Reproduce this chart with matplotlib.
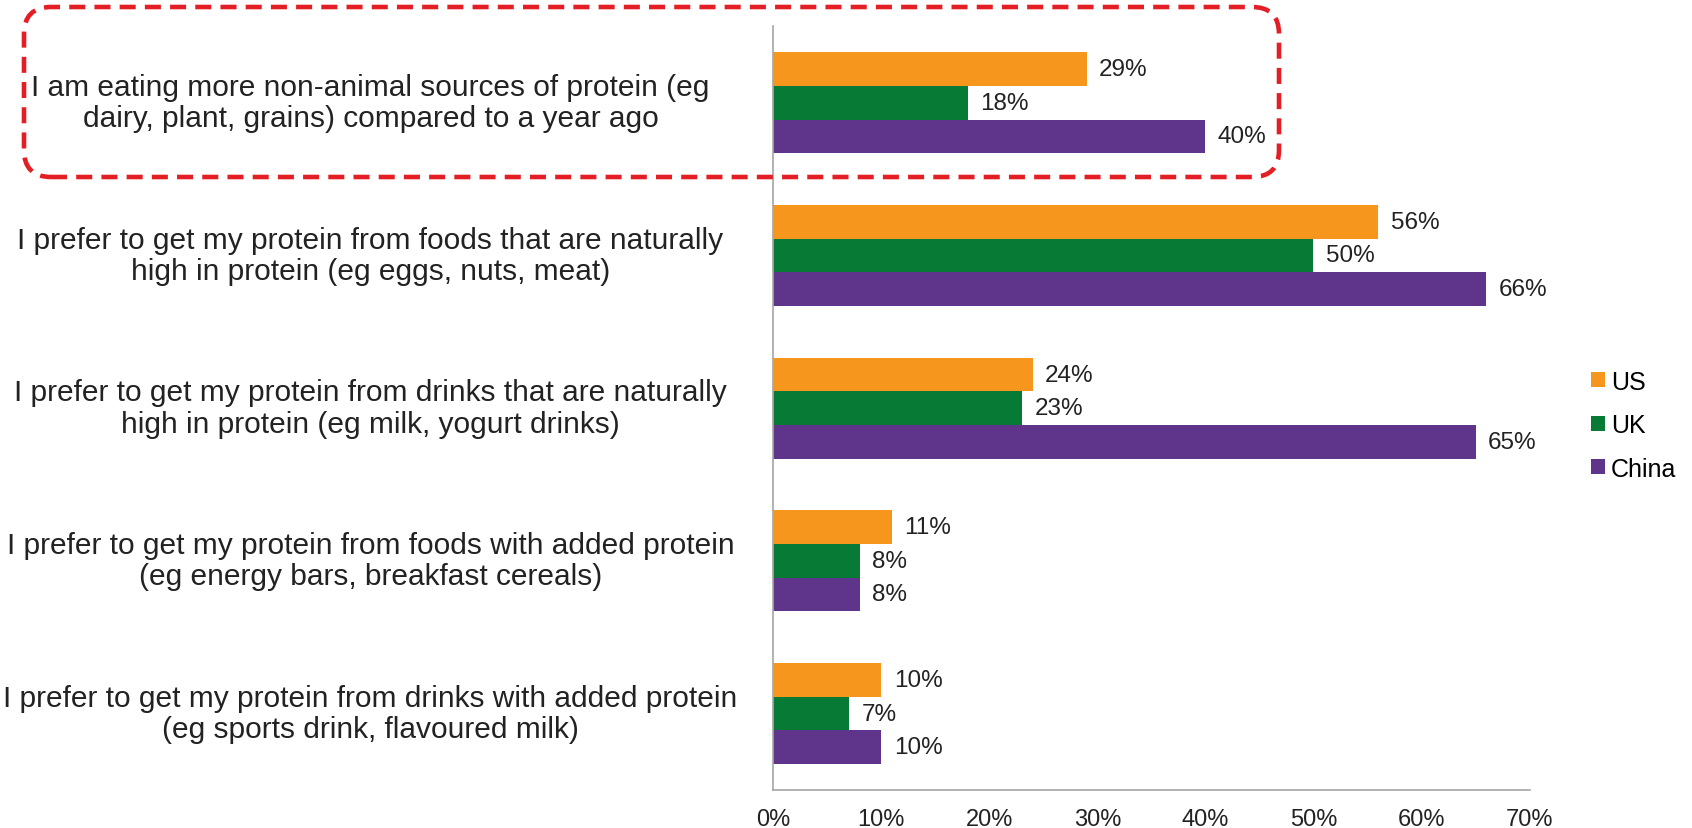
import matplotlib
matplotlib.use("Agg")
import matplotlib.pyplot as plt
import numpy as np
from matplotlib.patches import Patch, FancyBboxPatch
from matplotlib.transforms import blended_transform_factory

plt.rcParams['font.family'] = ['Liberation Sans', 'DejaVu Sans']

statements = [
    "I am eating more non-animal sources of protein (eg\ndairy, plant, grains) compared to a year ago",
    "I prefer to get my protein from foods that are naturally\nhigh in protein (eg eggs, nuts, meat)",
    "I prefer to get my protein from drinks that are naturally\nhigh in protein (eg milk, yogurt drinks)",
    "I prefer to get my protein from foods with added protein\n(eg energy bars, breakfast cereals)",
    "I prefer to get my protein from drinks with added protein\n(eg sports drink, flavoured milk)",
]
countries = ["US", "UK", "China"]
us = [29, 56, 24, 11, 10]
uk = [18, 50, 23, 8, 7]
china = [40, 66, 65, 8, 10]
colors = ["#F7961C", "#077A36", "#5E358B"]
xticks = [0, 10, 20, 30, 40, 50, 60, 70]

fig = plt.figure(figsize=(16.92, 8.29), dpi=100)
ax = fig.add_axes([0.457, 0.046, 0.447, 0.921])

y = np.arange(len(statements))
h = 0.22
for i, (vals, c) in enumerate(zip([us, uk, china], colors)):
    pos = y + (i - 1) * h
    ax.barh(pos, vals, height=h, color=c, label=countries[i])
    for p, v in zip(pos, vals):
        ax.annotate(f"{v}%", (v, p), xytext=(9, 0), textcoords='offset points',
                    ha='left', va='center', fontsize=17.5, color='#222222')

ax.set_ylim(len(statements) - 0.5, -0.5)
ax.set_xlim(0, 70)
ax.set_xticks(xticks)
ax.set_xticklabels([f"{t}%" for t in xticks], fontsize=17, color='#222222')
ax.tick_params(axis='x', length=0, pad=13)
ax.set_yticks([])
for s in ['top', 'right']:
    ax.spines[s].set_visible(False)
for s in ['left', 'bottom']:
    ax.spines[s].set_color('#A6A6A6')
    ax.spines[s].set_linewidth(1.2)

tr = blended_transform_factory(fig.transFigure, ax.transData)
for yi, s in zip(y, statements):
    ax.text(0.219, yi, s, transform=tr, ha='center', va='center', fontsize=21.5,
            linespacing=1.15, color='#222222', clip_on=False)

handles = [Patch(facecolor=c, edgecolor='none') for c in colors]
fig.legend(handles, countries, loc='center left', bbox_to_anchor=(0.927, 0.486),
           frameon=False, fontsize=18, handlelength=0.55, handleheight=0.55,
           handletextpad=0.25, labelspacing=0.78)

box = FancyBboxPatch((0.24, 6.51), 12.55, 1.70,
                     boxstyle="round,pad=0,rounding_size=0.27",
                     transform=fig.dpi_scale_trans, fill=False,
                     edgecolor='#E31E24', linewidth=3.3, linestyle=(0, (3.5, 2)))
fig.patches.append(box)

fig.savefig("out.png", dpi=100)
